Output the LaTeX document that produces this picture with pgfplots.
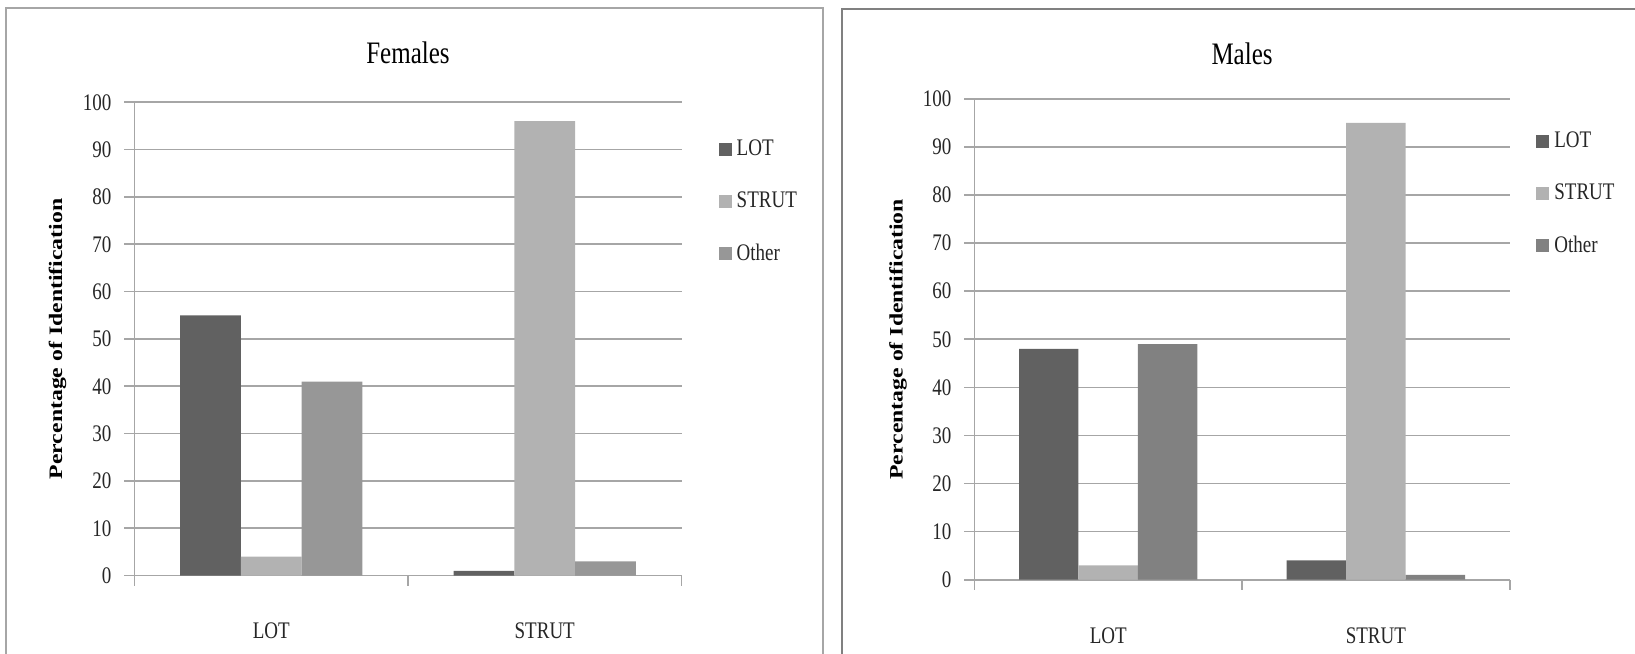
\documentclass[border=0pt]{standalone}
\usepackage{pgfplots}
\pgfplotsset{compat=1.18}
\usepackage{fontspec}
\setmainfont{Liberation Serif}
\usepackage{graphicx}
\definecolor{cLOT}{HTML}{616161}
\definecolor{cSTRUT}{HTML}{B2B2B2}
\definecolor{cOtherF}{HTML}{979797}
\definecolor{cOtherM}{HTML}{818181}
\definecolor{gridc}{HTML}{A6A6A6}
\newcommand{\vs}[1]{\scalebox{1}[1.25]{#1}}

\pgfplotsset{
 panel/.style={
  scale only axis,
  xmin=-0.5, xmax=1.5, ymin=0, ymax=100,
  axis lines*=left,
  axis line style={draw=gridc, line width=0.8pt},
  ymajorgrids, grid style={draw=gridc, line width=0.8pt},
  ytick={0,10,...,100},
  /pgf/number format/assume math mode=true,
  yticklabel={\vs{\pgfmathprintnumber{\tick}}},
  yticklabel style={xshift=-3pt},
  xtick={0,1}, xticklabels={\vs{LOT},\vs{STRUT}},
  major x tick style={draw=none},
  extra x ticks={-0.5,0.5,1.5}, extra x tick labels={},
  extra x tick style={grid=none, major x tick style={draw=gridc, line width=0.8pt}},
  tick align=outside, major tick length=5pt,
  major y tick style={draw=gridc, line width=0.8pt},
  tick label style={font=\fontsize{9.5}{11}\selectfont, text=black!85},
  ylabel={\scalebox{1.25}[1]{\textbf{Percentage of Identification}}},
  ylabel style={font=\fontsize{9.5}{11}\selectfont, anchor=center},
  every axis title shift=0pt,
  title style={font=\fontsize{12.5}{14}\selectfont, anchor=center},
  ybar, bar width=0.2222,
  legend style={draw=none, fill=none, inner sep=0pt, anchor=west,
    font=\fontsize{9.5}{11}\selectfont, row sep=16.5pt, column sep=2.5pt,
    nodes={inner sep=0pt}, text=black!85},
  legend cell align=left,
  legend image code/.code={\fill[##1] (0pt,-3.25pt) rectangle (6.5pt,3.25pt);},
 }
}

\pgfplotstableread{
x LOT STRUT Other
0 55 4 41
1 1 96 3
}\females
\pgfplotstableread{
x LOT STRUT Other
0 48 3 49
1 4 95 1
}\males

\begin{document}
\begin{tikzpicture}
\useasboundingbox (0,0) rectangle (817.5pt,327pt);
\draw[color=gridc, line width=1pt] (3pt,-2pt) -- (3pt,323pt) -- (411.65pt,323pt) -- (411.65pt,-2pt);
\draw[color=gray, line width=1pt] (420.85pt,-2pt) -- (420.85pt,322.25pt) -- (820pt,322.25pt);

\begin{axis}[panel,
  at={(67.25pt,39.2pt)}, anchor=south west,
  width=273.5pt, height=236.65pt,
  title={\vs{Females}},
  title style={at={(axis description cs:0.5,1.104)}},
  ylabel style={at={(axis description cs:-0.1408,0.5)}},
  xticklabel style={anchor=center, yshift=-22.6pt},
  legend style={at={(axis description cs:1.0673,0.790)}},
]
\addplot[fill=cLOT, draw=none, bar shift=-0.2222] table[x=x, y=LOT] {\females};
\addplot[fill=cSTRUT, draw=none, bar shift=0] table[x=x, y=STRUT] {\females};
\addplot[fill=cOtherF, draw=none, bar shift=0.2222] table[x=x, y=Other] {\females};
\addlegendentry{\vs{LOT}}
\addlegendentry{\vs{STRUT}}
\addlegendentry{\vs{Other}}
\end{axis}

\begin{axis}[panel,
  at={(487.2pt,37.15pt)}, anchor=south west,
  width=267.65pt, height=240.45pt,
  title={\vs{Males}},
  title style={at={(axis description cs:0.5,1.093)}},
  ylabel style={at={(axis description cs:-0.1427,0.5)}},
  xticklabel style={anchor=center, yshift=-23pt},
  legend style={at={(axis description cs:1.049,0.803)}},
]
\addplot[fill=cLOT, draw=none, bar shift=-0.2222] table[x=x, y=LOT] {\males};
\addplot[fill=cSTRUT, draw=none, bar shift=0] table[x=x, y=STRUT] {\males};
\addplot[fill=cOtherM, draw=none, bar shift=0.2222] table[x=x, y=Other] {\males};
\addlegendentry{\vs{LOT}}
\addlegendentry{\vs{STRUT}}
\addlegendentry{\vs{Other}}
\end{axis}
\end{tikzpicture}
\end{document}
